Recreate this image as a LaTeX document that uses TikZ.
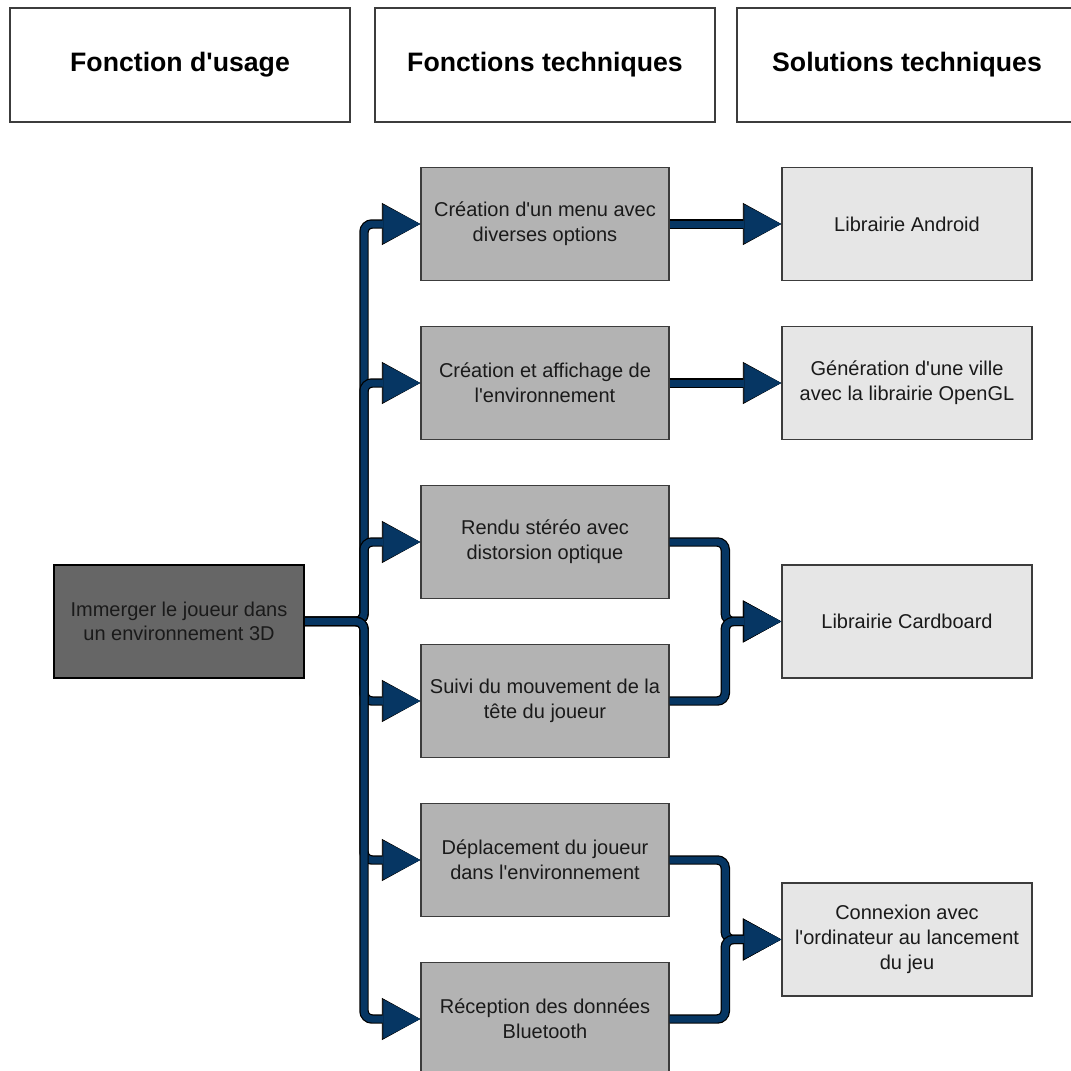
\documentclass[tikz,border=0pt]{standalone}
\usepackage{fontspec}
\setmainfont{Liberation Sans}
\usetikzlibrary{arrows.meta}

\definecolor{linkblue}{HTML}{063663}
\definecolor{boxline}{HTML}{3C3C3C}
\definecolor{usagegray}{HTML}{666666}
\definecolor{techgray}{HTML}{B3B3B3}
\definecolor{solgray}{HTML}{E6E6E6}
\definecolor{textdark}{HTML}{1A1A1A}

\hyphenpenalty=10000
\exhyphenpenalty=10000
\newcommand{\ap}{\textquotesingle}

\begin{document}
\begin{tikzpicture}[x=0.75pt, y=-0.75pt, node distance=119.25pt]
\tikzstyle{box} = [draw=boxline, line width=1.1pt, rectangle, inner sep=0pt, minimum width=187.5pt, minimum height=84.75pt, text width=177pt, align=flush center, text=textdark, font=\fontsize{15pt}{18.5pt}\selectfont]
\tikzstyle{head} = [box, fill=white, minimum width=255pt, minimum height=85.5pt, text width=240pt, text=black, font=\fontsize{20pt}{24pt}\selectfont\bfseries]
\tikzstyle{usage} = [box, fill=usagegray, draw=black, line width=1.5pt]
\tikzstyle{tech} = [box, fill=techgray, minimum width=186pt, text width=183pt]
\tikzstyle{sol} = [box, fill=solgray]
\tikzstyle{link} = [draw=linkblue, line width=5.25pt, rounded corners=6pt, -{Triangle[length=27.75pt, width=29pt, line width=0.5pt]},
  preaction={draw=black, line width=7.1pt, -{Triangle[length=28.75pt, width=31.5pt, line width=0.5pt]}}]

\useasboundingbox (0,0) rectangle (1071,1071);

% fonctions techniques
\node [tech] (T1) at (545,224) {Création d\ap un menu avec diverses options};
\node [tech, below of=T1] (T2) {Création et affichage de l\ap environnement};
\node [tech, below of=T2] (T3) {Rendu stéréo avec distorsion optique};
\node [tech, below of=T3] (T4) {Suivi du mouvement de la tête du joueur};
\node [tech, below of=T4] (T5) {Déplacement du joueur dans l\ap environnement};
\node [tech, below of=T5] (T6) {Réception des données Bluetooth};

% en-tetes
\node [head, above of=T1] (H2) {Fonctions techniques};
\node [head, left of=H2, xshift=-154.5pt] (H1) {Fonction d\ap usage};
\node [head, right of=H2, xshift=152.25pt] (H3) {Solutions techniques};

% fonction d'usage
\node [usage, left of=T3, xshift=-155.25pt, yshift=-59.6pt] (U) {Immerger le joueur dans un environnement 3D};

% solutions techniques
\node [sol, right of=T1, xshift=152.25pt] (S1) {Librairie Android};
\node [sol, right of=T2, xshift=152.25pt] (S2) {Génération d\ap une ville avec la librairie OpenGL};
\node [sol, right of=T3, xshift=152.25pt, yshift=-59.6pt] (S3) {Librairie Cardboard};
\node [sol, right of=T5, xshift=152.25pt, yshift=-59.6pt] (S4) {Connexion avec l\ap ordinateur au lancement du jeu};

\coordinate (split) at ([xshift=44.25pt]U.east);
\coordinate (m1) at ([xshift=-42pt]S3.west);
\coordinate (m2) at ([xshift=-42pt]S4.west);

\foreach \t in {T1,T2,T3,T4,T5,T6}
  \path [link] (U.east) -- (split) |- (\t.west);

\path [link] (T1.east) -- (S1.west);
\path [link] (T2.east) -- (S2.west);
\path [link] (T3.east) -| (m1) -- (S3.west);
\path [link] (T4.east) -| (m1) -- (S3.west);
\path [link] (T5.east) -| (m2) -- (S4.west);
\path [link] (T6.east) -| (m2) -- (S4.west);
\end{tikzpicture}
\end{document}
